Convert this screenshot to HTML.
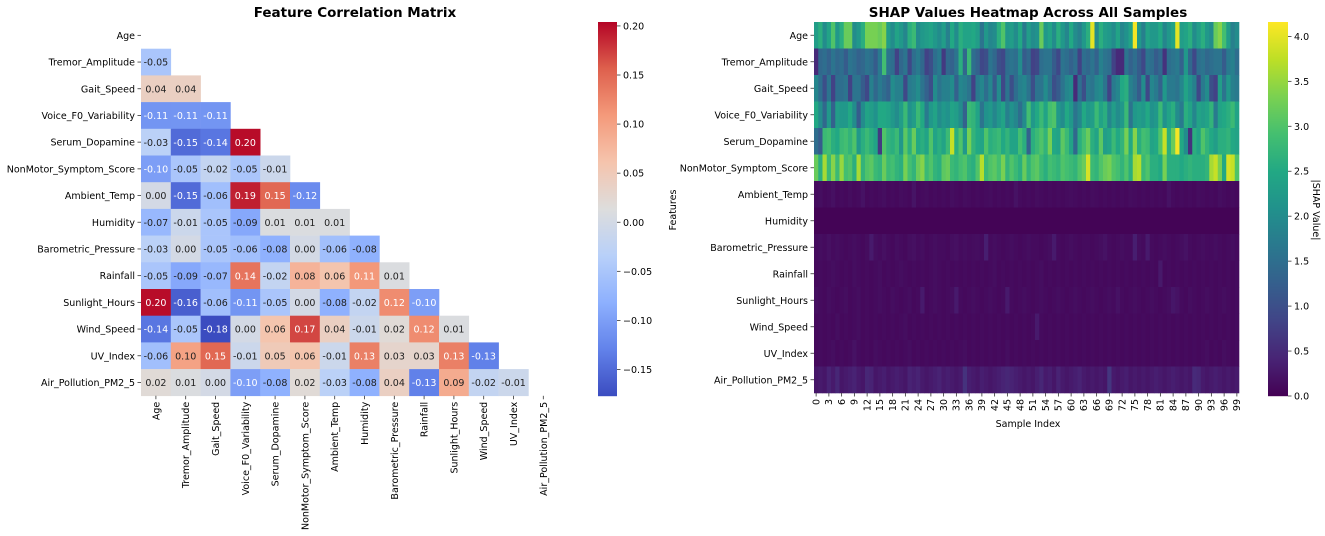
<!DOCTYPE html>
<html><head><meta charset="utf-8">
<style>
html,body{margin:0;padding:0;background:#fff;}
svg{display:block;font-family:"DejaVu Sans","Liberation Sans",sans-serif;}
</style></head>
<body>
<svg id="svg" width="1325" height="536" viewBox="0 0 1325 536" xmlns="http://www.w3.org/2000/svg">
<text x="355" y="17" text-anchor="middle" font-size="13.5" font-weight="bold">Feature Correlation Matrix</text>
<text x="1028" y="17" text-anchor="middle" font-size="13.5" font-weight="bold">SHAP Values Heatmap Across All Samples</text>
<text x="0" y="0" transform="translate(676,210) rotate(-90)" text-anchor="middle" font-size="9.5">Features</text>
<text x="1028" y="427" text-anchor="middle" font-size="9.5">Sample Index</text>
<text x="0" y="0" transform="translate(1313,210) rotate(90)" text-anchor="middle" font-size="9.5">|SHAP Value|</text>
<g id="corr"></g><g id="corrcb"></g><g id="shap"></g><g id="shapcb"></g>
</svg>
<script>
const features = ["Age","Tremor_Amplitude","Gait_Speed","Voice_F0_Variability","Serum_Dopamine","NonMotor_Symptom_Score","Ambient_Temp","Humidity","Barometric_Pressure","Rainfall","Sunlight_Hours","Wind_Speed","UV_Index","Air_Pollution_PM2_5"];
const corrRows = [
 [],
 [-0.05],
 [0.04,0.04],
 [-0.11,-0.11,-0.11],
 [-0.03,-0.15,-0.14,0.20],
 [-0.10,-0.05,-0.02,-0.05,-0.01],
 [-0.00,-0.15,-0.06,0.19,0.15,-0.12],
 [-0.07,-0.01,-0.05,-0.09,0.01,0.01,0.01],
 [-0.03,0.00,-0.05,-0.06,-0.08,-0.00,-0.06,-0.08],
 [-0.05,-0.09,-0.07,0.14,-0.02,0.08,0.06,0.11,0.01],
 [0.20,-0.16,-0.06,-0.11,-0.05,-0.00,-0.08,-0.02,0.12,-0.10],
 [-0.14,-0.05,-0.18,-0.00,0.06,0.17,0.04,-0.01,0.02,0.12,0.01],
 [-0.06,0.10,0.15,-0.01,0.05,0.06,-0.01,0.13,0.03,0.03,0.13,-0.13],
 [0.02,0.01,0.00,-0.10,-0.08,0.02,-0.03,-0.08,0.04,-0.13,0.09,-0.02,-0.01]
];
const corrTicks = [0.20,0.15,0.10,0.05,0.00,-0.05,-0.10,-0.15];
const corrTickLabels = ["0.20","0.15","0.10","0.05","0.00","\u22120.05","\u22120.10","\u22120.15"];
const shapTicks = [0.0,0.5,1.0,1.5,2.0,2.5,3.0,3.5,4.0];
const shapTickLabels = ["0.0","0.5","1.0","1.5","2.0","2.5","3.0","3.5","4.0"];
const shapAge = [2.3,2.6,2.0,2.4,3.0,2.2,2.6,3.2,3.2,2.0,2.2,2.6,3.3,3.3,3.3,3.2,3.4,2.3,2.0,2.4,2.2,1.9,2.6,2.8,2.0,2.2,2.3,2.4,2.2,2.0,2.3,1.8,2.5,2.0,2.6,2.4,2.4,2.5,2.3,1.6,2.2,1.9,2.0,2.6,3.0,2.2,2.3,2.0,2.5,1.7,2.3,2.0,2.1,3.2,2.2,2.4,2.0,2.6,2.2,1.9,2.5,2.0,1.8,2.2,2.6,4.0,2.0,2.6,2.3,2.2,2.0,2.4,1.9,2.1,2.4,4.1,2.2,1.8,2.4,2.2,2.2,2.5,1.9,2.2,2.4,4.0,2.3,2.4,2.6,2.0,2.3,2.6,2.2,2.0,3.2,3.4,2.9,2.3,1.8,2.0];
const shapTremor = [0.5,1.4,1.5,1.3,1.6,1.4,1.5,1.2,1.6,1.5,1.3,1.4,1.6,1.5,1.2,1.7,2.9,1.6,1.5,0.8,1.4,1.6,0.9,1.5,1.7,1.4,0.8,1.0,1.5,1.7,0.7,1.4,1.3,1.6,2.6,1.4,2.8,1.5,1.3,0.9,1.0,1.6,1.4,1.0,0.9,1.5,1.6,1.5,2.0,1.2,1.4,0.8,0.9,1.5,1.6,1.6,1.2,0.9,1.6,1.5,1.3,1.5,0.8,1.5,1.4,1.6,1.3,1.8,1.6,1.5,0.8,0.5,0.5,1.6,1.3,1.5,1.2,0.9,1.6,1.5,1.2,1.4,0.6,1.5,1.6,1.7,1.3,2.2,1.4,0.9,1.5,1.6,1.4,1.5,1.6,1.6,1.2,1.7,1.8,1.5];
const shapGait = [1.9,1.5,1.0,1.6,0.8,1.5,1.5,1.6,0.8,1.6,1.6,1.2,0.9,1.8,1.4,1.7,1.5,1.3,2.0,1.8,1.8,0.9,1.7,1.8,2.0,1.6,1.3,1.0,2.0,1.6,1.8,1.8,2.0,1.3,1.9,1.8,1.6,0.8,1.7,1.9,1.5,1.9,1.2,2.0,0.9,1.6,1.0,1.5,1.8,1.9,1.6,1.0,1.6,1.6,2.0,1.6,1.0,1.2,1.6,1.9,2.0,0.5,1.5,1.0,1.7,1.6,1.9,2.0,1.6,0.8,1.7,1.9,2.5,2.6,1.8,1.6,1.2,2.0,0.9,1.9,1.7,1.3,2.2,1.7,1.7,1.6,1.9,2.4,2.1,1.8,0.9,1.7,2.0,1.0,0.8,2.3,1.6,2.2,1.8,1.7];
const shapVoice = [2.5,2.0,1.4,2.2,1.3,2.3,2.2,2.2,2.5,2.0,1.2,2.0,2.4,2.3,2.1,2.5,2.5,2.4,2.2,2.0,2.3,2.8,2.1,2.3,2.8,2.5,1.7,2.2,2.4,2.0,2.2,2.1,2.4,2.3,2.0,1.3,2.8,2.7,2.4,1.6,2.1,2.2,1.9,2.2,2.4,1.8,2.1,1.9,1.5,2.0,2.9,2.2,2.5,2.8,2.4,2.9,3.0,2.2,2.0,2.5,2.2,1.6,1.9,2.5,2.2,2.3,2.8,2.4,2.6,1.9,2.3,2.0,2.2,2.8,1.6,2.2,2.3,2.2,2.5,2.1,2.2,2.8,2.1,2.4,2.6,2.0,1.7,2.6,2.4,1.9,2.4,2.3,2.4,2.7,1.7,2.4,2.5,2.6,2.8,2.4];
const shapSerum = [1.5,1.2,2.8,2.9,2.6,2.5,2.8,2.9,2.7,3.0,2.2,2.6,2.8,2.6,2.4,0.7,3.0,2.7,2.6,2.8,2.2,3.1,2.6,3.2,2.5,2.6,2.4,3.0,2.4,2.6,2.4,2.8,3.8,2.6,3.0,2.2,3.3,2.7,2.5,2.4,3.0,2.6,2.7,2.8,2.5,2.7,2.4,2.4,2.9,2.6,1.3,2.6,2.8,3.0,2.7,3.3,2.5,2.4,3.1,2.8,2.4,1.4,2.6,2.9,3.2,2.6,2.4,3.1,2.3,2.4,2.8,2.5,2.7,3.3,2.5,3.4,2.6,2.9,2.8,2.4,2.5,3.0,3.8,2.6,3.2,4.1,2.5,2.0,0.6,2.6,2.4,3.0,2.7,2.5,2.3,2.6,2.6,2.7,2.5,2.4];
const shapNonMotor = [3.2,2.6,3.6,2.8,3.4,2.8,3.5,2.9,3.0,2.6,3.6,2.7,3.0,3.1,2.8,2.7,3.2,2.8,2.9,2.7,2.6,3.3,2.9,2.7,3.2,3.4,2.8,3.0,2.7,2.6,3.1,3.2,2.8,2.7,2.9,3.0,2.7,2.6,3.0,3.7,2.8,3.0,3.1,2.9,3.3,2.7,3.0,2.8,2.6,3.2,2.7,3.0,3.1,2.8,2.6,2.9,2.8,2.7,3.0,2.9,2.8,2.7,3.0,3.2,3.9,2.8,2.7,3.0,3.2,3.3,3.0,2.9,2.7,3.0,2.6,3.6,3.7,2.8,3.0,2.6,2.6,2.5,3.3,2.6,2.6,2.6,2.5,2.6,2.7,2.6,2.6,2.6,2.7,3.6,3.8,3.3,2.5,3.9,3.8,3.0];
const shapAmbient = [0.12,0.15,0.1,0.12,0.18,0.1,0.12,0.1,0.14,0.1,0.12,0.2,0.1,0.12,0.1,0.12,0.15,0.1,0.12,0.1,0.14,0.12,0.1,0.22,0.1,0.12,0.14,0.1,0.12,0.1,0.12,0.1,0.15,0.12,0.1,0.14,0.12,0.1,0.12,0.1,0.12,0.14,0.1,0.12,0.1,0.12,0.1,0.2,0.12,0.1,0.12,0.1,0.14,0.12,0.1,0.12,0.1,0.12,0.1,0.12,0.14,0.12,0.1,0.12,0.1,0.14,0.12,0.1,0.12,0.1,0.12,0.1,0.12,0.1,0.14,0.12,0.1,0.12,0.1,0.12,0.1,0.12,0.1,0.2,0.12,0.1,0.12,0.1,0.12,0.1,0.14,0.12,0.1,0.12,0.1,0.15,0.12,0.1,0.12,0.1];
const shapHumidity = [0.03,0.03,0.03,0.03,0.03,0.03,0.03,0.03,0.03,0.03,0.03,0.03,0.03,0.03,0.03,0.03,0.03,0.03,0.03,0.03,0.03,0.03,0.03,0.03,0.03,0.03,0.03,0.03,0.03,0.03,0.03,0.03,0.03,0.03,0.03,0.03,0.03,0.03,0.03,0.03,0.03,0.03,0.03,0.03,0.03,0.03,0.03,0.03,0.03,0.03,0.03,0.03,0.03,0.03,0.03,0.03,0.03,0.03,0.03,0.03,0.03,0.03,0.03,0.03,0.03,0.03,0.03,0.03,0.03,0.03,0.03,0.03,0.03,0.03,0.03,0.03,0.03,0.03,0.03,0.03,0.03,0.03,0.03,0.03,0.03,0.03,0.03,0.03,0.03,0.03,0.03,0.03,0.03,0.03,0.03,0.03,0.03,0.03,0.03,0.03];
const shapBaro = [0.12,0.15,0.12,0.18,0.12,0.15,0.12,0.1,0.12,0.15,0.12,0.1,0.14,0.3,0.15,0.12,0.18,0.12,0.1,0.15,0.12,0.1,0.15,0.18,0.12,0.15,0.1,0.12,0.15,0.12,0.12,0.1,0.15,0.18,0.12,0.15,0.12,0.14,0.15,0.12,0.35,0.12,0.15,0.12,0.1,0.12,0.15,0.12,0.1,0.12,0.15,0.12,0.12,0.1,0.12,0.15,0.3,0.12,0.1,0.12,0.15,0.12,0.1,0.12,0.12,0.1,0.12,0.15,0.2,0.12,0.1,0.12,0.15,0.12,0.12,0.35,0.15,0.12,0.3,0.12,0.1,0.12,0.15,0.12,0.1,0.12,0.15,0.2,0.12,0.1,0.12,0.15,0.12,0.12,0.15,0.12,0.1,0.12,0.15,0.12];
const shapRain = [0.1,0.12,0.1,0.12,0.15,0.12,0.1,0.12,0.1,0.15,0.12,0.1,0.12,0.1,0.12,0.15,0.1,0.12,0.1,0.12,0.15,0.12,0.1,0.12,0.1,0.12,0.1,0.12,0.15,0.12,0.1,0.12,0.1,0.12,0.1,0.12,0.1,0.12,0.1,0.12,0.1,0.12,0.15,0.1,0.12,0.1,0.12,0.1,0.12,0.1,0.12,0.1,0.12,0.15,0.1,0.12,0.1,0.12,0.1,0.12,0.1,0.12,0.1,0.12,0.1,0.12,0.1,0.12,0.1,0.12,0.1,0.12,0.1,0.12,0.1,0.12,0.1,0.12,0.1,0.12,0.1,0.28,0.1,0.12,0.1,0.12,0.1,0.12,0.1,0.12,0.1,0.12,0.1,0.12,0.1,0.12,0.1,0.12,0.1,0.12];
const shapSun = [0.15,0.12,0.1,0.15,0.12,0.1,0.12,0.15,0.1,0.12,0.15,0.1,0.12,0.1,0.12,0.15,0.12,0.1,0.15,0.12,0.1,0.12,0.15,0.1,0.12,0.3,0.1,0.12,0.15,0.12,0.1,0.12,0.15,0.3,0.12,0.1,0.12,0.15,0.12,0.1,0.12,0.15,0.12,0.1,0.12,0.3,0.12,0.1,0.12,0.15,0.12,0.1,0.12,0.15,0.12,0.1,0.12,0.15,0.12,0.1,0.12,0.15,0.12,0.1,0.12,0.15,0.12,0.1,0.12,0.15,0.12,0.2,0.12,0.1,0.12,0.15,0.12,0.1,0.12,0.15,0.12,0.1,0.12,0.15,0.25,0.2,0.12,0.1,0.15,0.12,0.1,0.12,0.15,0.12,0.1,0.12,0.15,0.12,0.1,0.12];
const shapWind = [0.1,0.12,0.1,0.12,0.1,0.15,0.1,0.12,0.1,0.12,0.15,0.1,0.12,0.1,0.12,0.1,0.12,0.1,0.12,0.1,0.12,0.15,0.1,0.12,0.1,0.12,0.1,0.12,0.1,0.12,0.1,0.12,0.1,0.12,0.1,0.12,0.1,0.12,0.1,0.12,0.1,0.12,0.1,0.12,0.1,0.12,0.1,0.12,0.1,0.12,0.1,0.12,0.3,0.12,0.1,0.12,0.1,0.12,0.1,0.12,0.1,0.12,0.1,0.12,0.1,0.12,0.1,0.12,0.1,0.12,0.1,0.12,0.1,0.12,0.1,0.12,0.1,0.12,0.1,0.12,0.1,0.12,0.1,0.12,0.1,0.12,0.1,0.12,0.1,0.12,0.1,0.12,0.1,0.12,0.1,0.12,0.1,0.12,0.1,0.12];
const shapUV = [0.1,0.12,0.1,0.12,0.15,0.1,0.12,0.1,0.12,0.2,0.12,0.1,0.12,0.1,0.15,0.12,0.1,0.12,0.1,0.12,0.1,0.12,0.15,0.1,0.12,0.1,0.12,0.1,0.12,0.1,0.12,0.1,0.12,0.1,0.12,0.15,0.1,0.12,0.1,0.12,0.1,0.12,0.1,0.12,0.1,0.15,0.1,0.12,0.1,0.12,0.1,0.12,0.1,0.12,0.1,0.12,0.1,0.12,0.1,0.12,0.1,0.12,0.1,0.12,0.1,0.12,0.1,0.12,0.1,0.12,0.1,0.12,0.1,0.12,0.1,0.12,0.1,0.12,0.1,0.12,0.1,0.12,0.1,0.12,0.1,0.12,0.1,0.12,0.1,0.12,0.1,0.12,0.15,0.1,0.12,0.1,0.15,0.12,0.1,0.12];
const shapAir = [0.25,0.3,0.25,0.4,0.3,0.45,0.25,0.3,0.35,0.4,0.3,0.25,0.45,0.4,0.25,0.3,0.35,0.25,0.3,0.35,0.3,0.25,0.4,0.35,0.4,0.3,0.25,0.3,0.35,0.4,0.3,0.35,0.3,0.25,0.3,0.6,0.35,0.3,0.25,0.35,0.3,0.25,0.3,0.35,0.4,0.45,0.4,0.35,0.3,0.25,0.3,0.25,0.35,0.45,0.3,0.35,0.25,0.4,0.3,0.25,0.3,0.35,0.4,0.3,0.25,0.3,0.25,0.3,0.25,0.65,0.3,0.25,0.3,0.35,0.25,0.3,0.25,0.3,0.25,0.3,0.35,0.3,0.25,0.3,0.35,0.3,0.25,0.3,0.25,0.5,0.45,0.3,0.25,0.3,0.35,0.3,0.25,0.3,0.25,0.3];
const shapRows = [shapAge,shapTremor,shapGait,shapVoice,shapSerum,shapNonMotor,shapAmbient,shapHumidity,shapBaro,shapRain,shapSun,shapWind,shapUV,shapAir];

const NS="http://www.w3.org/2000/svg";
const FS='9.5';
function mk(tag,parent,attrs){const e=document.createElementNS(NS,tag);for(const k in attrs)e.setAttribute(k,attrs[k]);parent.appendChild(e);return e;}
function interp(stops,t){t=Math.max(0,Math.min(1,t));const n=stops.length-1;const p=t*n;const i=Math.min(n-1,Math.floor(p));const f=p-i;const a=stops[i],b=stops[i+1];return `rgb(${Math.round(a[0]+(b[0]-a[0])*f)},${Math.round(a[1]+(b[1]-a[1])*f)},${Math.round(a[2]+(b[2]-a[2])*f)})`;}
const coolwarm=[[59,76,192],[98,130,234],[141,176,254],[184,208,249],[221,221,221],[245,196,173],[244,154,123],[222,96,77],[180,4,38]];
const viridis=[[68,1,84],[72,36,117],[65,68,135],[53,95,141],[42,120,142],[33,145,140],[34,168,132],[68,191,112],[122,209,81],[189,223,38],[253,231,37]];

// ---- correlation heatmap ----
const cVmin=-0.177,cVmax=0.204;
const cx0=141,cy0=22,cw=29.8,ch=26.7;
const cX=i=>cx0+i*cw, cY=i=>cy0+i*ch;
const cNorm=v=>(v-cVmin)/(cVmax-cVmin);
const gC=document.getElementById('corr');
corrRows.forEach((row,r)=>{
  row.forEach((v,c)=>{
    const rc=mk('rect',gC,{x:cX(c),y:cY(r),width:cw+0.3,height:ch+0.3,fill:interp(coolwarm,cNorm(v))});
    
    
    const t=mk('text',gC,{x:cX(c)+cw/2,y:cY(r)+ch/2+3.6,'text-anchor':'middle','font-size':FS,fill:(v>=0.11||v<=-0.10)?'#fff':'#222'});
    t.textContent=v.toFixed(2);
    
    
  });
});
features.forEach((f,i)=>{
  mk('line',gC,{x1:cx0-3.5,x2:cx0,y1:cY(i)+ch/2,y2:cY(i)+ch/2,stroke:'#333','stroke-width':0.8});
  const t=mk('text',gC,{x:cx0-6,y:cY(i)+ch/2+3.5,'text-anchor':'end','font-size':FS});
  t.textContent=f;
  
  
  const xb=cY(14);
  mk('line',gC,{x1:cX(i)+cw/2,x2:cX(i)+cw/2,y1:xb,y2:xb+3.5,stroke:'#333','stroke-width':0.8});
  const tx=mk('text',gC,{x:0,y:0,transform:`translate(${cX(i)+cw/2+3.5},${xb+6}) rotate(-90)`,'text-anchor':'end','font-size':FS});
  tx.textContent=f;
  
  
});
const gCB=document.getElementById('corrcb');


const cbx=598,cbw=19,cbTop=22,cbBot=396;
const cbY=v=>cbBot-(v-cVmin)/(cVmax-cVmin)*(cbBot-cbTop);
for(let y=cbTop;y<cbBot;y+=1){const v=cVmin+(cbBot-y-0.5)/(cbBot-cbTop)*(cVmax-cVmin);mk('rect',gCB,{x:cbx,y:y,width:cbw,height:1.2,fill:interp(coolwarm,cNorm(v))});}
corrTicks.forEach((v,i)=>{
  const y=cbY(v);
  mk('line',gCB,{x1:cbx+cbw,x2:cbx+cbw+3.5,y1:y,y2:y,stroke:'#333','stroke-width':0.8});
  const t=mk('text',gCB,{x:cbx+cbw+6,y:y+3.5,'font-size':FS});
  t.textContent=corrTickLabels[i];
  
  
});

// ---- SHAP heatmap ----
const sVmax=4.16;
const sx0=814,sy0=22,sw=4.25,sh=26.5;
const sX=i=>sx0+i*sw, sY=i=>sy0+i*sh;
const gS=document.getElementById('shap');
shapRows.forEach((row,r)=>{
  row.forEach((v,c)=>{
    const rc=mk('rect',gS,{x:sX(c),y:sY(r),width:sw+0.3,height:sh+0.3,fill:interp(viridis,v/sVmax)});
    
    
  });
});
features.forEach((f,i)=>{
  mk('line',gS,{x1:sx0-3.5,x2:sx0,y1:sY(i)+sh/2,y2:sY(i)+sh/2,stroke:'#333','stroke-width':0.8});
  const t=mk('text',gS,{x:sx0-6,y:sY(i)+sh/2+3.5,'text-anchor':'end','font-size':FS});
  t.textContent=f;
  
  
});
for(let i=0;i<100;i+=3){
  const x=sX(i)+sw/2, yb=sY(14);
  mk('line',gS,{x1:x,x2:x,y1:yb,y2:yb+3.5,stroke:'#333','stroke-width':0.8});
  const t=mk('text',gS,{x:0,y:0,transform:`translate(${x+3.3},${yb+6}) rotate(-90)`,'text-anchor':'end','font-size':'9.5'});
  t.textContent=String(i);
  
  
}
const gSB=document.getElementById('shapcb');


const sbx=1268,sbw=20,sbTop=22,sbBot=396;
const sbY=v=>sbBot-v/sVmax*(sbBot-sbTop);
for(let y=sbTop;y<sbBot;y+=1){const v=(sbBot-y-0.5)/(sbBot-sbTop)*sVmax;mk('rect',gSB,{x:sbx,y:y,width:sbw,height:1.2,fill:interp(viridis,v/sVmax)});}
shapTicks.forEach((v,i)=>{
  const y=sbY(v);
  mk('line',gSB,{x1:sbx+sbw,x2:sbx+sbw+3.5,y1:y,y2:y,stroke:'#333','stroke-width':0.8});
  const t=mk('text',gSB,{x:sbx+sbw+6,y:y+3.5,'font-size':FS});
  t.textContent=shapTickLabels[i];
  
  
});
</script>
</body></html>
